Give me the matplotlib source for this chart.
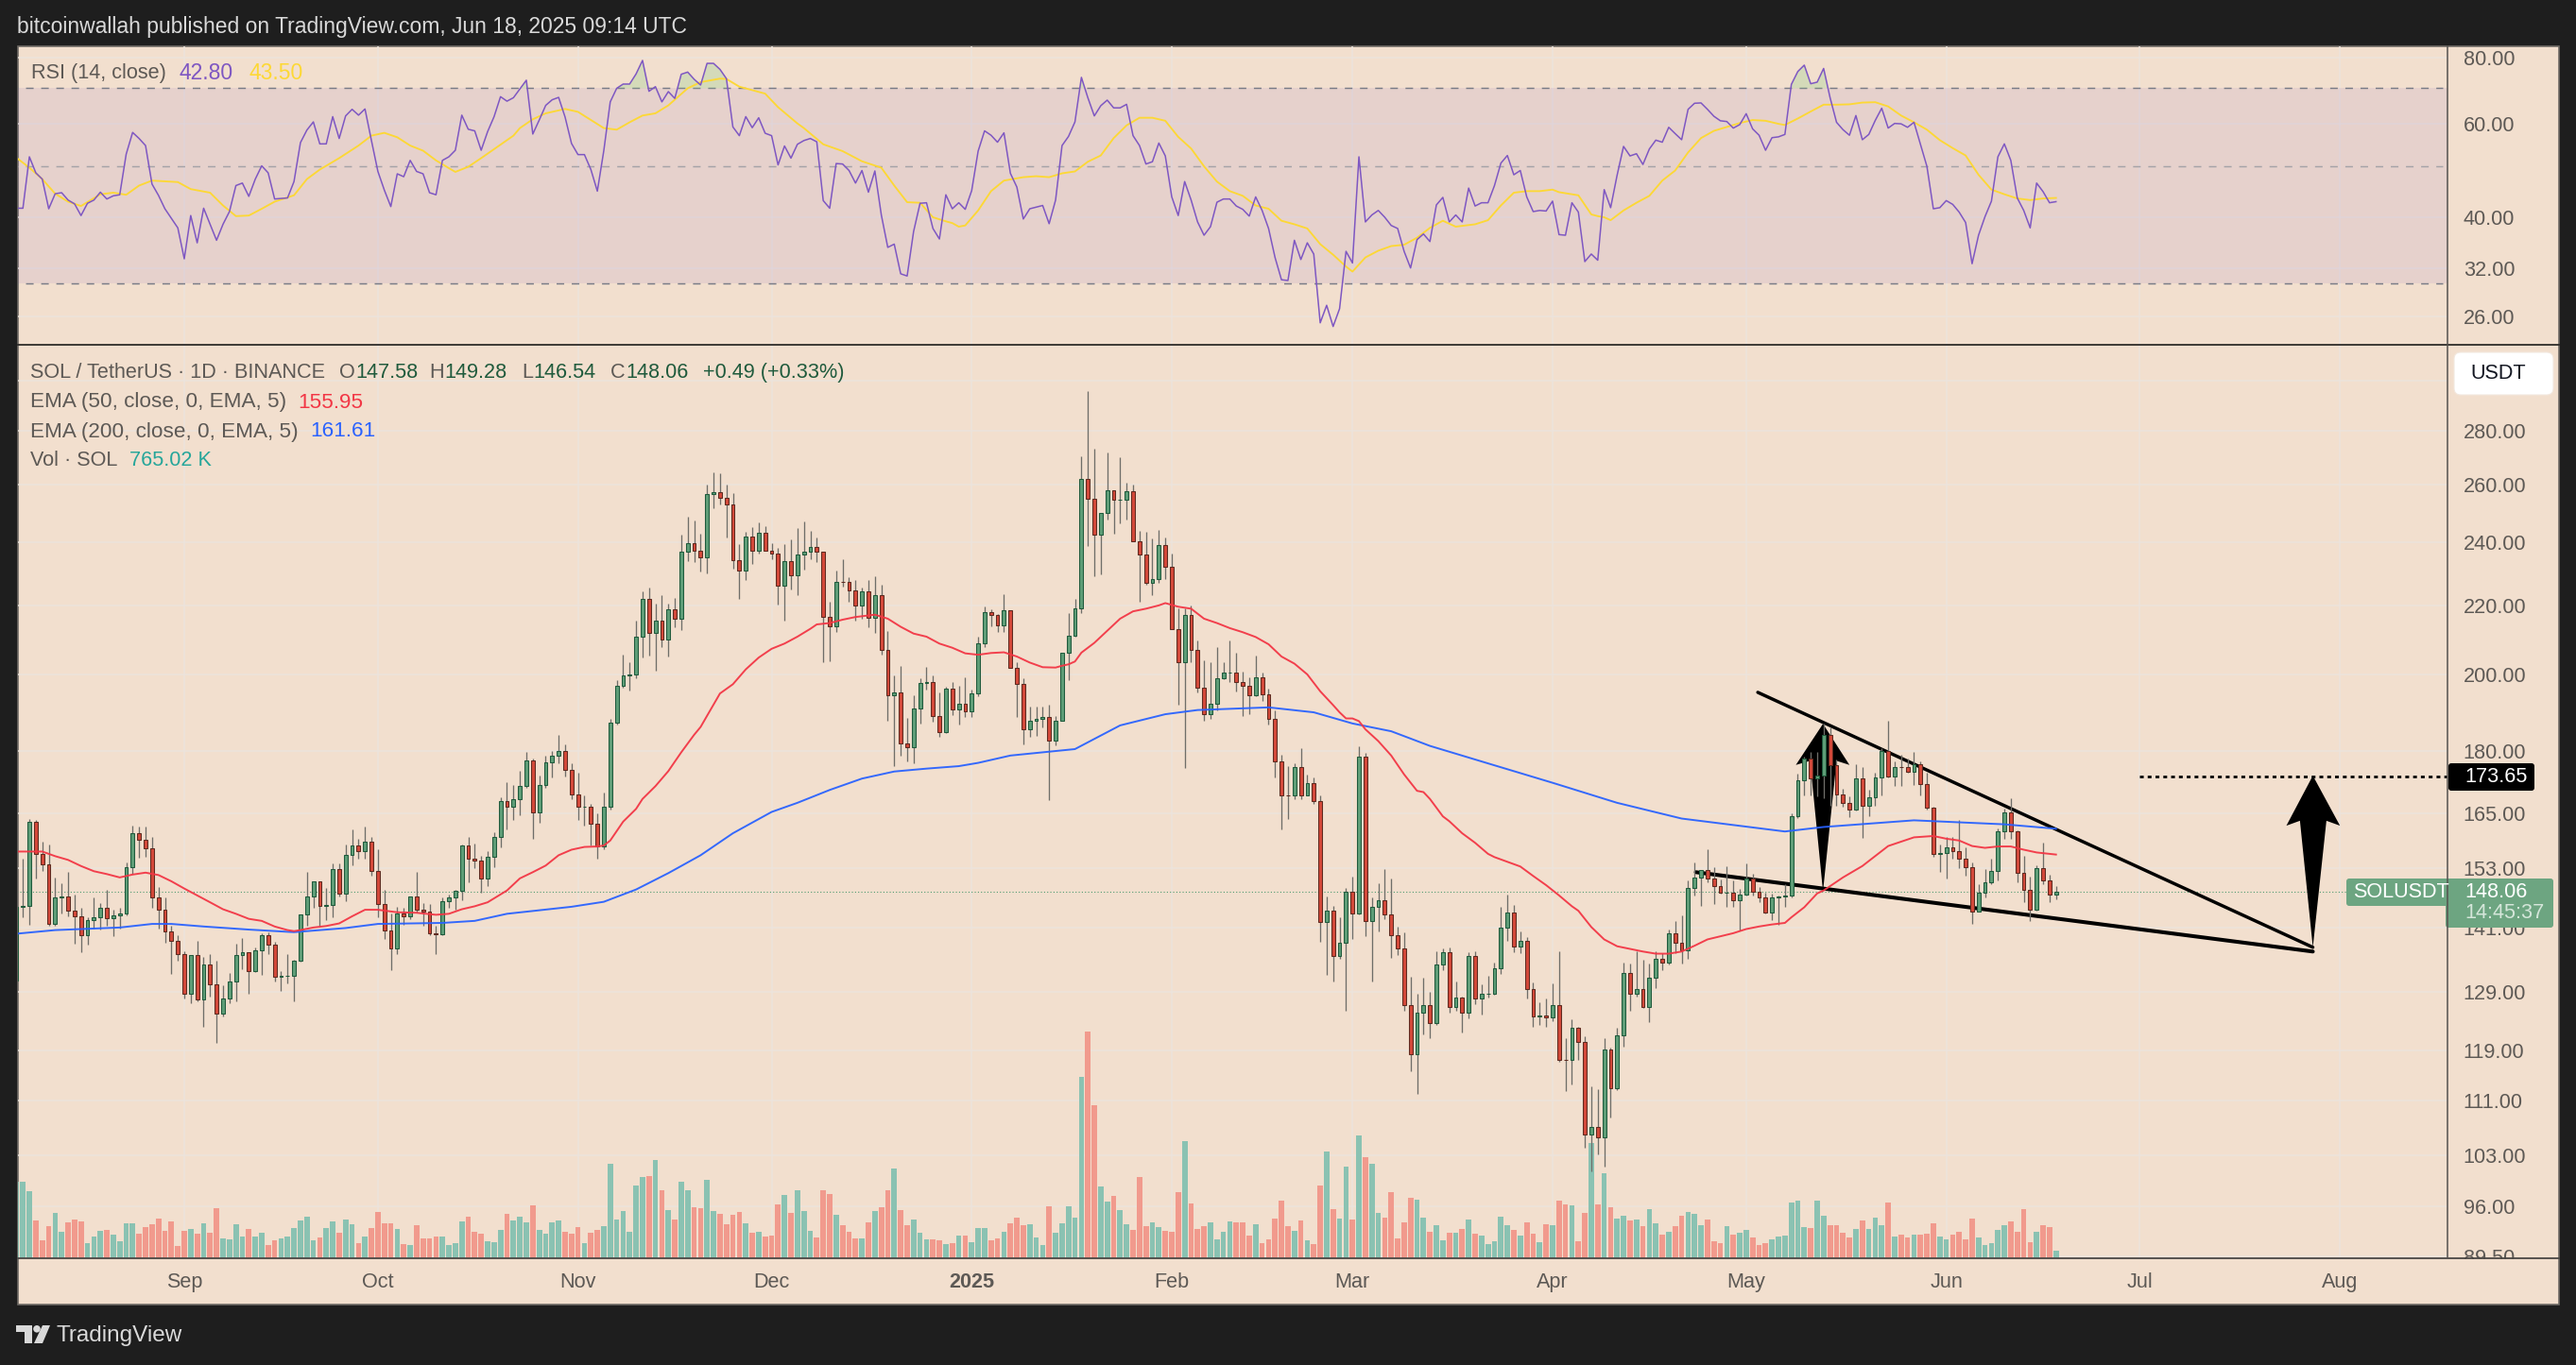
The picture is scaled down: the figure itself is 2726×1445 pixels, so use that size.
import matplotlib
matplotlib.use('Agg')
import matplotlib.pyplot as plt
from matplotlib.patches import Rectangle, FancyBboxPatch, Polygon, Circle
from matplotlib.ticker import NullLocator

plt.rcParams['font.family'] = ['Liberation Sans', 'DejaVu Sans']

# Daily candles, first one is 2024-08-06, day 0 is 2024-09-01
first_day = -26
first_open = 131.0
closes = [
    145, 145.2, 163.2, 156, 153.9, 141.8, 147, 147.2, 144.3, 143.2,
    139.6, 142.4, 143, 144.9, 142.8, 143.4, 143.8, 153.2, 160.6, 159.2,
    157.3, 146.9, 144.5, 140.2, 138.5, 136,
    128.6, 135.7, 127.7, 133.9, 130.3, 125.2, 127.9, 130.9, 135.8, 136.3,
    132.7, 136.7, 139.6, 137.7, 131.7, 131.9, 131.9, 134.7, 143.5, 147.2,
    150.2, 145.3, 145.5, 152.8, 147.8, 155.8, 157.9, 156.7, 158.7, 152.4,
    145.7, 140.4, 137, 143.8, 143.2, 147.2, 144.5, 144.1, 139.8, 139.7,
    146.3, 147, 148.3, 157.9, 155.1, 154.6, 150.8, 155.4, 159.8, 168,
    166.5, 168.3, 171.4, 177.6, 165.4, 171.6, 177.2, 178.8, 179.9, 175.4,
    169.4, 166.5, 166.6, 162.7, 157.7, 166.5, 187, 196.9, 199.7, 200,
    210.6, 222.1, 211.9, 215.3, 210, 218.7, 216, 237, 239.7, 237.3,
    235, 256.5, 257.2, 255.2, 252.9, 234.3, 230.7, 242, 237.3, 243.3,
    237.3, 236.3, 226, 234, 229.2, 236, 237, 238.5, 237, 216.5,
    213.8, 227.4, 227.2, 224.6, 220, 224.4, 216.2, 223, 207, 194.3,
    195.2, 181.7, 180.8, 190.7, 197.7, 198, 188.8, 184.7, 196.2, 190.5,
    192, 190.1, 194.8, 208.7, 218, 217, 214, 218.4, 201.8, 197.5,
    185.5, 187.7, 188, 188.5, 182.6, 187.7, 206, 211, 219.2, 262,
    255, 242.7, 250, 258, 254.5, 254.7, 257.6, 240.5, 236, 227,
    228, 239, 232, 213, 203.4, 217, 207, 196.3, 189.4, 192,
    199, 200.4, 200.4, 197.8, 196.8, 194.3, 199.3, 194.5, 188.2, 177.4,
    169.3, 169.2, 176, 169.2, 172.1, 168, 142, 144.4, 135.6, 138,
    148.2, 143.8, 178.6, 142.2, 145, 146.4, 143.5, 139.5, 137, 126.6,
    118.4, 125.4, 126.7, 123.5, 134, 136.2, 126.3, 128, 125.4, 135.6,
    127.8, 128.6, 128.6, 133.3, 141, 143.9, 137.3, 138.5, 129.5, 124.7,
    124.8, 124.6, 126.7, 117.5, 117.4, 122.8, 120.4, 106, 107.1, 105.5,
    119.2, 113, 121.5, 132.4, 128.6, 129.5, 126.3, 131.5, 135.1, 134.4,
    139.9, 138, 136.7, 149, 151, 152.6, 150.8, 149.3, 148, 148,
    146.5, 147.5, 150.8, 148.2, 146.9, 144, 146.9, 147.1, 147.4, 164.4,
    172.8, 178, 173.2, 174, 184, 176.5, 169.4, 167.5, 165.9, 173.2,
    166.8, 168.7, 173.4, 180, 173.8, 176, 175.9, 174.8, 176.7, 172,
    166.4, 156, 156.3, 157.5, 156.6, 155, 153.2, 144.2, 148, 150,
    152.5, 161, 165.2, 161, 152.1, 148.6, 144.5, 153, 150.5, 147.6,
    148.06,
]
highs = [
    147, 155.1, 163.8, 163.6, 158.7, 158.1, 151, 149.9, 152.3, 147.6,
    144.8, 143.1, 147, 145.9, 148.6, 144.5, 144.8, 154.2, 162.4, 162.2,
    162.2, 159.7, 149.1, 147, 141.3, 139.5,
    136.5, 135.7, 138.4, 135.4, 135.9, 134.6, 130.2, 132.5, 137.9, 138.9,
    136.2, 137.1, 139.9, 140, 138.3, 132.7, 135.9, 134.9, 143, 152.2,
    150, 149.6, 148.9, 154.1, 154.1, 158.1, 161.5, 159.4, 162, 159.7,
    157.2, 148.6, 143.7, 145, 144.8, 146.7, 152.2, 145.9, 145.7, 141.3,
    146.9, 147.6, 148.6, 158.1, 159.8, 158.3, 155.6, 156.6, 160.8, 168.7,
    172.4, 171.7, 175.1, 179.6, 178, 174, 178.8, 180, 184, 181.6,
    177, 174.7, 169.2, 167.2, 165, 170, 188, 198.3, 205.5, 203.5,
    215.5, 224.3, 225.5, 220.5, 223, 220.6, 222.2, 242.5, 248.6, 247.5,
    242.8, 259.8, 264.3, 264, 259.8, 256.9, 239.5, 243.5, 245.2, 246.8,
    245.5, 239.7, 238.3, 239.5, 241, 244.8, 247, 243.7, 241.5, 237,
    221.2, 230.7, 234.6, 228.7, 227.8, 225.6, 227.8, 229, 226.3, 212.4,
    199.8, 202.4, 188.4, 194.3, 199, 202, 199.8, 195, 196.5, 197.9,
    196.9, 199.3, 195.9, 210.8, 219.6, 218.8, 217.5, 223.3, 218.4, 203.3,
    198.9, 191.2, 191.2, 191.2, 191.9, 188.9, 206.1, 217.8, 222.1, 270.4,
    295.9, 273, 250, 271.7, 256.8, 270, 260.7, 260, 243.8, 243.5,
    241.2, 244.3, 241.5, 236.4, 219, 219, 220, 209.7, 204, 203.3,
    207.6, 203.3, 209.5, 206.1, 200.7, 199.3, 205.4, 200.4, 196, 190.3,
    178.9, 176.2, 177, 180.6, 174.1, 173.5, 169.2, 147.2, 145.3, 143,
    148.9, 151.3, 181, 179.5, 147, 149.8, 152.9, 150.9, 141.2, 140,
    131.8, 128.6, 131.6, 129, 136.4, 136.9, 137.1, 130.8, 128.2, 136.3,
    136.4, 130.4, 131.9, 134.4, 145.1, 147.6, 145.5, 140.3, 139.2, 130.7,
    127.2, 127.9, 130.6, 136.5, 121, 124.2, 123, 121.3, 113.2, 112.8,
    121, 119.4, 122.8, 134.4, 134.2, 136.4, 134.8, 134.2, 136.5, 136.1,
    140.6, 142.2, 143.4, 150.5, 154.2, 152.6, 157, 153.2, 150.6, 153.4,
    150.5, 148.8, 154, 151.9, 149.1, 147.9, 147.7, 147.3, 149.6, 165,
    174.3, 178.6, 179.8, 179.8, 186.9, 186, 177.8, 170.8, 169.1, 176.7,
    175.9, 170.5, 174.6, 180.6, 187.7, 177.4, 179.1, 178.1, 179.8, 177.4,
    174.6, 166.6, 158.2, 159.8, 159.8, 163.6, 157.6, 154.2, 149.6, 152.8,
    155, 161.7, 166.1, 168.5, 161.2, 155.7, 151.2, 153.7, 158.5, 151.6,
    149.28,
]
lows = [
    130, 143, 141.6, 150.8, 152.5, 141.3, 141.3, 143.8, 143.2, 137.9,
    136.2, 137.7, 140.8, 140.6, 141.3, 139.4, 140.8, 143.4, 151.8, 155.2,
    155.5, 144.9, 140.8, 138.1, 132.2, 134.7,
    127.9, 127, 127.4, 122.9, 128.2, 120.2, 124.7, 127, 127.3, 133.2,
    128.6, 132.6, 132.1, 135.9, 130.8, 129.2, 130.5, 127.4, 134.5, 141.3,
    144.8, 141.4, 142.4, 143.1, 147.2, 146.3, 153.7, 155, 155, 151.4,
    143, 138.7, 133, 136, 141.5, 142.6, 143.9, 141.4, 139.5, 135.9,
    139.5, 144.8, 144.5, 146.5, 150, 153, 147.9, 149.3, 153.3, 157.5,
    161.4, 163.5, 164.6, 171, 159.3, 163, 171, 173.4, 177, 173.8,
    168.3, 163.6, 162.4, 157.9, 155, 157, 166, 186.7, 196.4, 195.5,
    199, 204.8, 205.3, 201, 207.8, 205.1, 213.6, 212.6, 234, 233.5,
    230.4, 229.8, 251.5, 252.9, 241.5, 231.4, 221.9, 227.9, 233, 236.3,
    237.3, 234.6, 220.3, 215.3, 224.9, 223.2, 231, 234.5, 233.6, 203.4,
    203.7, 212, 225.9, 221, 215.5, 216.1, 213.6, 211.7, 205.5, 187.7,
    176.2, 178.7, 177.4, 177, 186.9, 195.9, 187.3, 183.4, 184.5, 189,
    186.7, 188.7, 188.7, 194, 207.8, 213.8, 212, 212, 201.9, 188.6,
    181.5, 183.6, 183.8, 185.8, 168.2, 181.4, 187.7, 198.4, 210.6, 217.8,
    238.7, 229.1, 229.5, 247.8, 242.9, 246.5, 247.8, 240.5, 221.1, 226.3,
    223.2, 227, 228, 213.6, 191.9, 175.7, 203.3, 195.2, 187.7, 188.2,
    190.3, 198.7, 198, 195.4, 188.9, 189.3, 194.1, 192.9, 186.7, 173.4,
    161.5, 163.9, 168.3, 168.3, 169.2, 167.2, 138.3, 132, 130.8, 135,
    125.7, 138.8, 143.5, 139.4, 130.8, 140.3, 142.6, 135.3, 135.7, 125.7,
    115.6, 112.1, 121.6, 121, 123.3, 133, 125.3, 125.7, 122, 124.4,
    126.8, 125, 128, 128.5, 132.2, 138.4, 136.2, 136.1, 127.8, 122.9,
    123.3, 122.9, 123.9, 117.2, 112.5, 113.5, 117.4, 104, 100.7, 103.1,
    101.4, 108.5, 112.6, 119.6, 125.7, 128.2, 126.1, 123.8, 129.7, 133,
    134, 136.1, 134.2, 135, 147.3, 145.2, 150.1, 145.6, 147.8, 145,
    145.1, 140.5, 147.4, 147.4, 146, 143.8, 142.5, 141.6, 145, 147,
    164.1, 169.3, 169.3, 168.9, 168.6, 166.9, 166.9, 166.5, 164.3, 165.7,
    159.6, 164.4, 166.9, 169.3, 173.4, 171.4, 171.4, 174.6, 171.6, 169.3,
    165.9, 155.4, 152.2, 150.8, 155, 153.1, 151.4, 141.8, 144.1, 147,
    149.6, 150.5, 159.3, 159.3, 150.1, 146, 142.3, 144.4, 149.6, 146,
    146.54,
]
# volume in units of 32k SOL, the last bar is the 765.02K of the legend
volumes = [
    243, 243, 213, 120, 57, 102, 144, 84, 114, 123,
    117, 48, 69, 87, 90, 75, 54, 111, 111, 78,
    99, 108, 126, 87, 117, 39,
    87, 93, 78, 111, 81, 159, 63, 60, 108, 69,
    93, 69, 81, 42, 57, 63, 69, 96, 120, 132,
    57, 66, 96, 117, 81, 123, 108, 48, 69, 96,
    147, 111, 111, 93, 45, 42, 105, 63, 63, 69,
    69, 42, 48, 117, 132, 84, 78, 54, 51, 90,
    141, 120, 132, 114, 168, 90, 78, 114, 120, 84,
    78, 99, 48, 81, 90, 102, 300, 123, 150, 84,
    231, 258, 261, 312, 216, 153, 123, 243, 216, 162,
    159, 249, 150, 141, 108, 138, 147, 111, 81, 84,
    69, 72, 171, 201, 144, 216, 150, 87, 66, 216,
    204, 138, 105, 84, 63, 63, 114, 150, 162, 216,
    285, 153, 105, 123, 81, 60, 60, 57, 45, 48,
    72, 72, 51, 96, 96, 57, 63, 84, 111, 129,
    105, 108, 66, 42, 165, 81, 111, 165, 129, 576,
    720, 486, 228, 180, 198, 153, 108, 90, 258, 102,
    114, 99, 87, 84, 210, 372, 174, 93, 102, 114,
    60, 84, 117, 114, 114, 72, 108, 48, 60, 126,
    183, 102, 87, 120, 57, 45, 231, 339, 156, 126,
    291, 123, 390, 321, 300, 144, 129, 210, 63, 114,
    192, 186, 129, 84, 105, 57, 81, 81, 93, 123,
    78, 72, 45, 54, 132, 105, 90, 72, 114, 78,
    51, 108, 105, 183, 171, 168, 54, 144, 366, 171,
    270, 162, 126, 135, 120, 123, 102, 156, 111, 75,
    84, 102, 135, 147, 141, 105, 123, 54, 48, 102,
    75, 81, 90, 66, 42, 48, 60, 69, 72, 177,
    183, 99, 96, 183, 135, 105, 105, 81, 66, 93,
    120, 93, 129, 105, 177, 69, 75, 66, 75, 75,
    78, 111, 69, 60, 75, 84, 60, 126, 66, 42,
    48, 90, 105, 117, 84, 156, 51, 84, 105, 99,
    24,
]
rsi_values = [
    41.6, 41.6, 52, 48.5, 47.2, 41.5, 44.3, 44.5, 43.1, 42.4,
    40.3, 42.5, 43.1, 44.6, 43.3, 43.9, 44.1, 52.6, 57.8, 56.3,
    54.6, 46.2, 44, 41.5, 39.8, 38.2,
    33.4, 40.3, 35.8, 41.6, 38.8, 36.2, 38.8, 41, 45.9, 46.4,
    43.8, 47.2, 50, 48.5, 43.3, 43.4, 43.5, 46.7, 55.3, 58.4,
    60.5, 55, 55, 61.9, 56.3, 62.1, 63.9, 62.3, 64, 55.8,
    48.8, 45, 41.9, 48.3, 47.7, 51.2, 48.8, 48.3, 44.5, 44.1,
    51.2, 52, 53.5, 62.3, 58.6, 58.2, 53.5, 58, 61.9, 67.5,
    66.2, 67.2, 69.8, 72.5, 57.4, 61, 65, 66.6, 67.3, 61.8,
    55.1, 52.5, 52.5, 49.2, 44.8, 53.4, 66, 70, 71.3, 71.3,
    74.5, 79, 69.1, 70.5, 66, 69, 67, 74.4, 75.1, 72.8,
    71, 78, 78, 76, 73, 59.2, 57, 61.9, 59, 61.6,
    57.6, 57, 50.2, 54.5, 51.7, 54.9, 55.8, 56.3, 55.5, 43,
    41.6, 50.5, 50.4, 49, 46.4, 49, 44.6, 48.9, 40.4, 35.1,
    35.6, 31.3, 31, 37.6, 42.5, 42.6, 38.1, 36.4, 44.1, 41.5,
    42.6, 41.4, 44.9, 53.3, 58.2, 57.1, 55.4, 57.7, 48.4, 45.6,
    39.7, 41.5, 41.8, 42.1, 38.9, 43.1, 54.6, 56.8, 60.5, 73.4,
    67.2, 62.1, 64.9, 66.5, 64.3, 64.3, 65.3, 57, 54.6, 50.4,
    50.9, 55.2, 52.2, 43.7, 40.3, 46.7, 43.1, 39.2, 37, 38.4,
    42.7, 43.3, 43.3, 42, 41.4, 40.2, 43.7, 41.2, 38.1, 33.6,
    30.5, 30.4, 36.2, 33.3, 35.8, 34.1, 25.3, 27.3, 24.9, 26.9,
    34.5, 32.8, 52, 39.2, 40.4, 41.2, 40, 38.6, 38.1, 34.5,
    32.1, 36.3, 37.2, 36, 42.2, 43.6, 39.2, 40.4, 39.2, 45.4,
    42, 42.6, 42.6, 45.9, 50.6, 52.3, 48.1, 49, 43.7, 41,
    41.2, 41.1, 42.9, 37.1, 37, 42.6, 40.9, 33, 34.1, 33.2,
    45.1, 41.7, 48, 54.4, 52.2, 52.7, 50.3, 53.8, 55.9, 55.4,
    59.1, 57.5, 56, 63.9, 65.6, 65.7, 63.9, 62, 60.8, 60.6,
    58.9, 59.8, 62.7, 58.7, 57.1, 53.5, 56.5, 56.7, 57.3, 71.2,
    75.3, 77.4, 71.4, 71.9, 76.3, 67.2, 60.4, 58.5, 57.1, 62.2,
    56, 57.3, 60.9, 64.2, 58.9, 60.1, 60, 59.1, 60.4, 54.9,
    49.9, 41.5, 41.7, 43, 42.3, 40.9, 39.1, 32.7, 37, 40.1,
    42.9, 52, 55, 51.2, 43.5, 41.2, 38.2, 46.4, 44.7, 42.6,
    42.8,
]
# the smooth lines were read at every few days
rsi_ma_days = [
    -26, -24, -22, -20, -18, -16, -13, -11, -9, -7, -5, -1, 1, 4, 6, 8, 10, 12, 14, 17,
    19, 21, 24, 27, 29, 31, 33, 35, 37, 39, 41, 42, 44, 46, 49, 51, 52, 54, 56, 59,
    61, 63, 65, 67, 69, 71, 73, 75, 78, 80, 83, 84, 86, 90, 92, 95, 96, 99, 102, 105,
    108, 110, 112, 114, 116, 118, 119, 120, 121, 123, 125, 127, 130, 132, 134, 136, 138, 140, 142, 144,
    146, 148, 150, 152, 154, 156, 158, 160, 162, 164, 166, 168, 170, 172, 174, 176, 178, 180, 181, 183,
    185, 187, 189, 191, 193, 195, 197, 200, 202, 204, 206, 208, 210, 212, 213, 215, 216, 218, 219, 220,
    221, 223, 225, 227, 229, 231, 233, 235, 237, 239, 241, 243, 245, 247, 248, 250, 252, 254, 256, 258,
    260, 262, 264, 266, 268, 270, 272, 274, 276, 278, 280, 282, 284, 286, 288, 290,
]
rsi_ma_values = [
    51.8, 49.6, 47.2, 44.3, 42.8, 42, 44.2, 44.5, 44.1, 45.9, 46.9, 46.6, 45.2, 44.5, 42.1, 40.2, 40.3, 41.5, 42.8, 44,
    47.2, 49.2, 51.7, 54.6, 57, 57.7, 56.6, 54.6, 53.4, 51.2, 49.5, 48.7, 49.8, 51.7, 54.8, 57, 58.9, 61.2, 62.8, 64,
    63.2, 61, 58.9, 58.5, 60.4, 62.2, 62.8, 65, 70, 71.9, 73, 72.9, 70.5, 68.4, 64.5, 60.1, 58.9, 54.9, 53.3, 51,
    49.6, 45.9, 42.7, 42.6, 40, 39.3, 39, 38.4, 38.6, 41.2, 44.8, 46.9, 47.6, 47.8, 47.6, 48.4, 48.8, 50.9, 52.3, 56.4,
    59.6, 61.6, 61.6, 60.8, 56.7, 53.9, 49.9, 46.7, 44.8, 43.9, 42.1, 41.5, 39.4, 38.8, 38.1, 35.6, 34, 32.3, 31.6, 33.6,
    34.6, 35.3, 35.5, 36.6, 38.2, 39.4, 38.4, 38.8, 39.5, 42.1, 44.5, 44.8, 44.8, 45.1, 44.6, 44.2, 44, 40.5, 40.2, 40,
    39.5, 41.2, 42.6, 43.9, 46.9, 49, 53, 56.4, 58.2, 59.2, 60.2, 61, 60.8, 60, 59.7, 61.4, 63.3, 65.2, 65.2, 65.3,
    65.8, 65.9, 64.7, 62.2, 60.4, 58.5, 55.9, 54, 52.3, 48.1, 45.1, 44.2, 43.4, 43.1, 43.4, 43.5,
]
ema50_days = [
    -26, -24, -22, -20, -18, -16, -14, -12, -10, -8, -6, -4, -2, 0, 2, 4, 6, 8, 10, 12,
    14, 16, 17, 18, 20, 22, 24, 26, 28, 30, 33, 36, 39, 41, 43, 45, 47, 50, 52, 54,
    56, 58, 60, 62, 64, 65, 66, 68, 70, 71, 73, 75, 77, 79, 80, 82, 83, 85, 87, 89,
    91, 93, 95, 97, 98, 100, 102, 104, 107, 109, 111, 113, 115, 117, 119, 121, 123, 125, 127, 129,
    131, 133, 135, 136, 137, 138, 139, 141, 143, 145, 147, 149, 151, 152, 154, 156, 158, 160, 162, 164,
    166, 168, 170, 172, 174, 176, 178, 179, 180, 181, 182, 183, 185, 187, 189, 191, 192, 193, 195, 196,
    198, 200, 202, 203, 205, 207, 209, 211, 213, 215, 216, 218, 220, 222, 224, 226, 228, 230, 232, 234,
    236, 238, 240, 242, 244, 246, 248, 249, 251, 253, 254, 257, 260, 264, 268, 271, 273, 275, 277, 279,
    281, 283, 285, 287, 290,
]
ema50_values = [
    156.6, 156.6, 156.6, 155.6, 154.8, 153.5, 152.4, 151.8, 151.1, 151.7, 152.1, 151.6, 150.3, 148.8, 147.4, 146, 144.6, 143.7, 142.7, 142.3,
    141.2, 140.5, 140.3, 140.5, 141, 141.3, 141.8, 143.2, 144.5, 144.5, 144, 143.9, 143.5, 143.7, 144.6, 145.2, 146, 148.4, 150.9, 152.2,
    153.6, 155.8, 157, 157.6, 157.7, 157.9, 159, 163.2, 166.1, 168.4, 171.4, 175, 179.6, 184, 186, 191.8, 194.8, 197.3, 201.4, 204.7,
    207.2, 208.7, 210.7, 213, 214.3, 214.7, 215.7, 216.5, 217.2, 216, 213.6, 211.6, 210.7, 208.7, 207.5, 205.9, 205.5, 206, 206.2, 205,
    203.3, 202, 201.9, 202.4, 202.8, 203.6, 206.1, 208.9, 212.4, 216, 218.2, 219, 220, 220.7, 219.6, 219, 216, 214.7, 213.2, 212,
    210.6, 208.5, 205, 203, 200, 195.4, 191.7, 189.8, 188.2, 188.2, 187.5, 185.4, 182.4, 178.8, 174.2, 170.3, 170, 168.4, 164.4, 163.3,
    160.6, 158.5, 156.1, 155.4, 154.4, 153.4, 151.4, 149.5, 147.4, 145.2, 144.3, 141.1, 138.7, 137.4, 136.9, 136.4, 136, 136, 136.4, 137.5,
    138.7, 139.3, 139.9, 140.7, 141.2, 141.6, 141.9, 143, 145, 147.8, 148.4, 151.1, 153.5, 157.8, 159.7, 160, 159.4, 159, 157.8, 157.4,
    157.7, 157.7, 157, 156.4, 155.95,
]
ema200_days = [
    -26, -20, -10, -5, -2, 3, 10, 17, 25, 30, 40, 45, 50, 60, 65, 70, 75, 80, 85, 91,
    95, 100, 105, 110, 115, 120, 123, 128, 138, 145, 152, 157, 168, 175, 181, 187, 193, 203, 212, 222,
    232, 248, 254, 268, 282, 290,
]
ema200_values = [
    139.8, 140.5, 141, 141.7, 141.7, 141.2, 140.6, 140.1, 140.9, 141.7, 141.9, 142.3, 143.7, 145.1, 146.1, 148.6, 152, 155.8, 160.6, 165.4,
    167.5, 170.5, 173.2, 174.9, 175.6, 176.2, 177, 178.8, 180.4, 186.4, 189.3, 190.4, 191.1, 189.8, 186.9, 184.9, 181.2, 176.4, 172.2, 167.5,
    163.9, 161, 162, 163.5, 162.6, 161.61,
]
# drawings on the chart (day, price)
upper_line_days = [243.8, 329.8]
upper_line_prices = [195.1, 137.2]
lower_line_days = [234.2, 329.8]
lower_line_prices = [152.2, 136.4]
arrow1_days = [253.9, 258, 256, 253.9, 251.9, 249.7]
arrow1_prices = [186.8, 176.5, 177.5, 148.2, 177.5, 176.5]
arrow2_days = [329.8, 334, 331.9, 329.8, 327.8, 325.7]
arrow2_prices = [173.9, 162.3, 163.4, 137.2, 163.4, 162.3]
target_price = 173.65
target_start_day = 302.9
last_price = 148.06

month_days = [0, 30, 61, 91, 122, 153, 181, 212, 242, 273, 303, 334]
month_labels = ['Sep', 'Oct', 'Nov', 'Dec', '2025', 'Feb', 'Mar', 'Apr', 'May', 'Jun', 'Jul', 'Aug']
price_ticks = [300, 280, 260, 240, 220, 200, 180, 165, 153, 141, 129, 119, 111, 103, 96, 89.5]
rsi_ticks = [80, 60, 40, 32, 26]

# layout in pixels
W, H = 2726, 1445
LEFT, RIGHT, DIVIDER = 19, 2708, 2590
TOP, RSI_BOTTOM, MAIN_BOTTOM, BOTTOM = 49, 365, 1332, 1381
PX_PER_DAY = 6.83
SEP_X = 195

BG = '#f2dfce'
DARK = '#1e1e1e'
GRID = '#ece4dc'
TEXT = '#5d5955'
GREEN_BODY = '#5f9e78'
RED_BODY = '#d4493a'
LABEL_GREEN = '#6da581'
FONT = 15.6


def pane(top, bottom, zorder=1):
    ax = fig.add_axes([LEFT / W, 1 - bottom / H, (DIVIDER - LEFT) / W, (bottom - top) / H], zorder=zorder)
    ax.set_xlim((LEFT - SEP_X) / PX_PER_DAY, (DIVIDER - SEP_X) / PX_PER_DAY)
    for s in ax.spines.values():
        s.set_visible(False)
    return ax


def log_limits(ax, low, high):
    ax.set_yscale('log')
    ax.set_ylim(low, high)
    ax.yaxis.set_minor_locator(NullLocator())


def clear_axes(ax):
    ax.patch.set_visible(False)
    ax.set_xticks([])
    ax.set_yticks([])
    ax.minorticks_off()


def grid_axes(ax, ticks, labels, xlabels):
    ax.set_facecolor('none')
    ax.set_xticks(month_days)
    ax.set_xticklabels(xlabels)
    ax.set_yticks(ticks)
    ax.set_yticklabels(labels)
    ax.yaxis.tick_right()
    ax.tick_params(axis='both', length=0, labelsize=FONT, labelcolor=TEXT)
    ax.tick_params(axis='y', pad=12)
    ax.tick_params(axis='x', pad=11)
    ax.grid(True, color=GRID, lw=1.1)
    ax.set_axisbelow(True)


fig = plt.figure(figsize=(W / 100, H / 100), dpi=100, facecolor=DARK)

page = fig.add_axes([0, 0, 1, 1], zorder=0)
page.set_xlim(0, W)
page.set_ylim(H, 0)
page.axis('off')
page.add_patch(Rectangle((LEFT, TOP), RIGHT - LEFT, BOTTOM - TOP, fc=BG, ec='#6f6a65', lw=1.2))

opens = [first_open] + closes[:-1]
days = list(range(first_day, first_day + len(closes)))
rising = [c >= o for o, c in zip(opens, closes)]

# RSI pane
RSI_LOW, RSI_HIGH = 23.0, 84.0
ax_rsi = pane(TOP, RSI_BOTTOM)
log_limits(ax_rsi, RSI_LOW, RSI_HIGH)
grid_axes(ax_rsi, rsi_ticks, [f'{t:.2f}' for t in rsi_ticks], [''] * len(month_days))
ax_rsi.axhspan(30, 70, color='#7e57c2', alpha=0.1, lw=0, zorder=1)
for level, col in [(70, '#787b86'), (50, '#a5a3a8'), (30, '#787b86')]:
    ax_rsi.plot([days[0] - 1, 350.0], [level, level], color=col, lw=1.05, ls=(0, (5.5, 5.5)), zorder=2)
ax_rsi.fill_between(days, 70, rsi_values, where=[v > 70 for v in rsi_values], interpolate=True,
                    color='#8fd18a', alpha=0.3, lw=0, zorder=2)
ax_rsi.plot(rsi_ma_days, rsi_ma_values, color='#fdd835', lw=1.35, zorder=3)
ax_rsi.plot(days, rsi_values, color='#7e57c2', lw=1.1, zorder=4)

# main pane: grid under volume under candles
PRICE_LOW, PRICE_HIGH = 89.3, 315.3
ax_grid = pane(RSI_BOTTOM, MAIN_BOTTOM, zorder=1)
log_limits(ax_grid, PRICE_LOW, PRICE_HIGH)
# the 300 line has no label, the USDT button sits there
grid_axes(ax_grid, price_ticks, ['' if t == 300 else f'{t:.2f}' for t in price_ticks], month_labels)
ax_grid.get_xticklabels()[4].set_fontweight('bold')

ax_vol = pane(RSI_BOTTOM, MAIN_BOTTOM, zorder=2)
ax_vol.bar(days, volumes, width=0.84, lw=0,
           color=['#8ac2b2' if r else '#f19a8d' for r in rising])
ax_vol.set_ylim(0, (MAIN_BOTTOM - RSI_BOTTOM) * 3)
ax_vol.set_xlim(ax_grid.get_xlim())
clear_axes(ax_vol)

ax = pane(RSI_BOTTOM, MAIN_BOTTOM, zorder=3)
log_limits(ax, PRICE_LOW, PRICE_HIGH)
ax.plot([days[0] - 1, (DIVIDER - SEP_X) / PX_PER_DAY], [last_price, last_price],
        color='#4f9a70', lw=0.8, ls=(0, (1, 2)), zorder=1)
ax.fill(arrow1_days, arrow1_prices, color='black', lw=0, zorder=2)
ax.fill(arrow2_days, arrow2_prices, color='black', lw=0, zorder=2)
ax.plot(upper_line_days, upper_line_prices, color='black', lw=2.5, zorder=2, solid_capstyle='round')
ax.plot(lower_line_days, lower_line_prices, color='black', lw=2.9, zorder=2, solid_capstyle='round')
ax.plot([target_start_day, (DIVIDER - SEP_X) / PX_PER_DAY], [target_price, target_price],
        color='black', lw=1.95, ls=(0, (1.5, 1.55)), zorder=2)

ax.vlines(days, lows, highs, color='#6f6e69', lw=0.95, zorder=3)
ax.bar(days, [abs(c - o) for o, c in zip(opens, closes)],
       bottom=[min(o, c) for o, c in zip(opens, closes)], width=0.56,
       color=[GREEN_BODY if r else RED_BODY for r in rising],
       edgecolor=['#1f5a3c' if r else '#5e2a20' for r in rising], lw=0.75, zorder=4)
ax.plot(ema200_days, ema200_values, color='#2962ff', lw=1.4, zorder=5, alpha=0.95)
ax.plot(ema50_days, ema50_values, color='#f23645', lw=1.4, zorder=5, alpha=0.95)
ax.set_xlim(ax_grid.get_xlim())
log_limits(ax, PRICE_LOW, PRICE_HIGH)
clear_axes(ax)

# everything sitting on top of the panes, in pixels
over = fig.add_axes([0, 0, 1, 1], zorder=10)
over.set_xlim(0, W)
over.set_ylim(H, 0)
over.axis('off')


def label(x, y, s, color=TEXT, size=FONT, **kw):
    over.text(x, y, s, color=color, fontsize=size, va='center', **kw)


# frame lines
over.plot([LEFT, RIGHT], [RSI_BOTTOM, RSI_BOTTOM], color='#2e2c2a', lw=1.3)
over.plot([LEFT, RIGHT], [MAIN_BOTTOM, MAIN_BOTTOM], color='#4a4744', lw=1.3)
over.plot([DIVIDER, DIVIDER], [TOP, MAIN_BOTTOM], color='#55524f', lw=1.1)
over.add_patch(Rectangle((DIVIDER + 1, MAIN_BOTTOM + 1), RIGHT - DIVIDER - 2, 20, fc=BG, lw=0))

label(18, 29, 'bitcoinwallah published on TradingView.com, Jun 18, 2025 09:14 UTC', color='#d9d9d9', size=16.5)

# RSI legend
label(33, 78, 'RSI (14, close)')
label(190, 78, '42.80', color='#7e57c2', size=16.5)
label(263, 78, '43.50', color='#fdd835', size=16.5)

# main legend
OHLC = '#1f5a3c'
label(32, 394.5, 'SOL / TetherUS · 1D · BINANCE')
for x, letter, value in [(359, 'O', '147.58'), (454, 'H', '149.28'), (552, 'L', '146.54'), (646, 'C', '148.06')]:
    label(x, 394.5, letter)
    label(x + {'O': 17, 'H': 16, 'L': 12, 'C': 16}[letter], 394.5, value, color=OHLC)
label(744, 394.5, '+0.49 (+0.33%)', color=OHLC)
label(32, 426, 'EMA (50, close, 0, EMA, 5)', size=16.2)
label(315, 426, '155.95', color='#f23645', size=16.2)
label(32, 457, 'EMA (200, close, 0, EMA, 5)', size=16.2)
label(328, 457, '161.61', color='#2962ff', size=16.2)
label(32, 487.5, 'Vol · SOL')
label(137, 487.5, '765.02 K', color='#26a69a')

# right side labels
over.add_patch(FancyBboxPatch((2601, 377), 97, 37, boxstyle='round,pad=4,rounding_size=7', fc='white', ec='#f2e8df', lw=0.8))
label(2614, 395.5, 'USDT', color='#131722')
over.add_patch(FancyBboxPatch((2593, 810), 87, 25, boxstyle='round,pad=2,rounding_size=3', fc='black', lw=0))
label(2608, 822.5, '173.65', color='white')
over.add_patch(FancyBboxPatch((2485, 932), 106, 25, boxstyle='round,pad=2,rounding_size=3', fc=LABEL_GREEN, lw=0))
over.add_patch(FancyBboxPatch((2590, 932), 110, 48, boxstyle='round,pad=2,rounding_size=3', fc=LABEL_GREEN, lw=0))
label(2490, 944, 'SOLUSDT', color='white')
label(2608, 944, '148.06', color='white')
label(2608, 967, '14:45:37', color='#d5e6da')

# logo and footer
logo = '#d9d9d9'
over.add_patch(Polygon([(17, 1403), (34, 1403), (34, 1422), (26, 1422), (26, 1410), (17, 1410)], fc=logo, lw=0))
over.add_patch(Circle((39, 1406.8), 3.8, fc=logo, lw=0))
over.add_patch(Polygon([(45, 1403), (53, 1403), (45, 1422), (36, 1422)], fc=logo, lw=0))
label(60, 1414, 'TradingView', color=logo, size=17.5)

fig.savefig('out.png', dpi=100, facecolor=DARK)
